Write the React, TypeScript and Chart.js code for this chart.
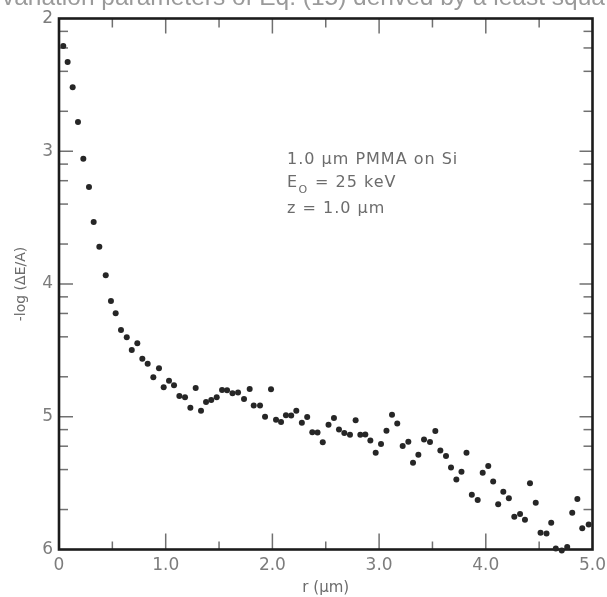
import React, { useEffect, useRef } from 'react';
import { Chart, registerables } from 'chart.js';

Chart.register(...registerables);

// r (µm) of each measured point
const radius = [
  0.040, 0.081, 0.128, 0.178, 0.228, 0.281, 0.325, 0.378, 0.438, 0.487,
  0.531, 0.581, 0.635, 0.682, 0.734, 0.781, 0.831, 0.884, 0.937, 0.981,
  1.031, 1.078, 1.128, 1.181, 1.231, 1.281, 1.331, 1.378, 1.427, 1.478,
  1.528, 1.575, 1.626, 1.678, 1.734, 1.787, 1.825, 1.884, 1.931, 1.987,
  2.034, 2.081, 2.127, 2.176, 2.224, 2.276, 2.326, 2.374, 2.423, 2.472,
  2.526, 2.577, 2.624, 2.674, 2.727, 2.780, 2.824, 2.871, 2.918, 2.968,
  3.018, 3.069, 3.121, 3.170, 3.221, 3.274, 3.318, 3.368, 3.421, 3.477,
  3.527, 3.574, 3.627, 3.674, 3.724, 3.772, 3.819, 3.869, 3.924, 3.971,
  4.023, 4.069, 4.116, 4.164, 4.216, 4.267, 4.321, 4.367, 4.414, 4.468,
  4.513, 4.569, 4.613, 4.656, 4.712, 4.763, 4.810, 4.858, 4.904, 4.964,
];

// -log(ΔE/A) of each measured point
const negLogEnergy = [
  2.207, 2.328, 2.518, 2.780, 3.056, 3.269, 3.533, 3.719, 3.934, 4.128,
  4.221, 4.347, 4.402, 4.497, 4.447, 4.563, 4.600, 4.703, 4.635, 4.778,
  4.728, 4.763, 4.844, 4.853, 4.932, 4.783, 4.954, 4.889, 4.874, 4.853,
  4.799, 4.801, 4.823, 4.817, 4.866, 4.791, 4.915, 4.915, 5.000, 4.793,
  5.022, 5.040, 4.988, 4.991, 4.955, 5.045, 5.002, 5.116, 5.119, 5.192,
  5.060, 5.009, 5.096, 5.123, 5.135, 5.027, 5.135, 5.133, 5.179, 5.272,
  5.206, 5.105, 4.985, 5.051, 5.220, 5.189, 5.347, 5.286, 5.171, 5.190,
  5.107, 5.254, 5.296, 5.382, 5.473, 5.414, 5.271, 5.588, 5.627, 5.421,
  5.371, 5.487, 5.660, 5.565, 5.614, 5.754, 5.733, 5.776, 5.501, 5.647,
  5.874, 5.880, 5.798, 5.993, 6.008, 5.981, 5.723, 5.620, 5.840, 5.811,
];

const xTickValues = [0, 1, 2, 3, 4, 5];
const xTickLabels = ['0', '1.0', '2.0', '3.0', '4.0', '5.0'];
const xMinorTicks = [0.5, 1.5, 2.5, 3.5, 4.5];
const yTickValues = [2, 3, 4, 5, 6];
const yTickLabels = ['2', '3', '4', '5', '6'];
const yMinorMantissas = [2, 4, 6, 8];

const xTitle = 'r (\u03bcm)';
const yTitle = '-log (\u0394E/A)';
const noteLine1 = '1.0 \u03bcm PMMA on Si';
const noteLine2Main = 'E';
const noteLine2Sub = 'O';
const noteLine2Rest = '= 25 keV';
const noteLine3 = 'z = 1.0 \u03bcm';
const pageCaption = 'variation parameters of Eq. (15) derived by a least squa';

const FONT = '"DejaVu Sans", "Liberation Sans", sans-serif';

const framePlugin = {
  id: 'frameTicks',
  beforeDatasetsDraw(chart: any) {
    const { ctx, chartArea: a, scales } = chart;
    const xs = scales.x;
    const ys = scales.y;
    ctx.save();
    ctx.strokeStyle = '#707070';
    ctx.lineWidth = 1.5;
    const line = (x1: number, y1: number, x2: number, y2: number) => {
      ctx.beginPath();
      ctx.moveTo(x1, y1);
      ctx.lineTo(x2, y2);
      ctx.stroke();
    };
    xTickValues.slice(1, -1).forEach((v) => {
      const px = xs.getPixelForValue(v);
      line(px, a.bottom, px, a.bottom - 16);
      line(px, a.top, px, a.top + 15);
    });
    xMinorTicks.forEach((v) => {
      const px = xs.getPixelForValue(v);
      line(px, a.bottom, px, a.bottom - 8);
      line(px, a.top, px, a.top + 9);
    });
    yTickValues.slice(1, -1).forEach((v) => {
      const py = ys.getPixelForValue(v);
      line(a.left, py, a.left + 14, py);
      line(a.right, py, a.right - 13, py);
    });
    for (let n = yTickValues[0]; n < yTickValues[yTickValues.length - 1]; n++) {
      yMinorMantissas.forEach((k) => {
        const py = ys.getPixelForValue(n + 1 - Math.log10(k));
        line(a.left, py, a.left + 9, py);
        line(a.right, py, a.right - 9, py);
      });
    }
    ctx.strokeStyle = '#1c1c1c';
    ctx.lineWidth = 2.6;
    ctx.strokeRect(a.left, a.top, a.right - a.left, a.bottom - a.top);
    ctx.restore();
  },
  afterDraw(chart: any) {
    const { ctx } = chart;
    ctx.save();
    ctx.fillStyle = '#6c6c6c';
    ctx.textBaseline = 'alphabetic';
    ctx.textAlign = 'left';
    const big = `16px ${FONT}`;
    ctx.font = big;
    (ctx as any).letterSpacing = '1px';
    const x0 = 287;
    ctx.fillText(noteLine1, x0, 163.5);
    ctx.fillText(noteLine2Main, x0, 187);
    const wE = ctx.measureText(noteLine2Main).width;
    ctx.font = `11px ${FONT}`;
    ctx.fillText(noteLine2Sub, x0 + wE + 0.5, 193);
    ctx.font = big;
    ctx.fillText(noteLine2Rest, 315, 187);
    ctx.fillText(noteLine3, x0, 212.5);

    // cut-off line of page text above the figure
    (ctx as any).letterSpacing = '0px';
    ctx.fillStyle = '#9a9a9a';
    ctx.font = `18px "Liberation Sans", sans-serif`;
    const w = ctx.measureText(pageCaption).width;
    const size = (18 * 603) / w;
    ctx.font = `${size.toFixed(2)}px "Liberation Sans", sans-serif`;
    ctx.fillText(pageCaption, 2, 4.5);
    ctx.restore();
  },
};

export default function App() {
  const canvasRef = useRef<HTMLCanvasElement | null>(null);

  useEffect(() => {
    const canvas = canvasRef.current;
    if (!canvas) return;
    const points = radius.map((r, i) => ({ x: r, y: negLogEnergy[i] }));
    const chart = new Chart(canvas, {
      type: 'scatter',
      data: {
        datasets: [
          {
            data: points,
            backgroundColor: '#262626',
            borderWidth: 0,
            pointRadius: 3,
            pointHoverRadius: 3,
            clip: false,
          } as any,
        ],
      },
      options: {
        animation: false,
        responsive: false,
        devicePixelRatio: 1,
        events: [],
        layout: { padding: { left: 0, top: 18.5, right: 14.5, bottom: 0 } },
        plugins: {
          legend: { display: false },
          tooltip: { enabled: false },
          title: { display: false },
        },
        scales: {
          x: {
            type: 'linear',
            min: 0,
            max: 5,
            grid: { display: false, drawTicks: false },
            border: { display: false },
            afterBuildTicks: (scale: any) => {
              scale.ticks = xTickValues.map((v) => ({ value: v }));
            },
            afterFit: (scale: any) => {
              scale.height = 47.5;
              scale.paddingLeft = 0;
              scale.paddingRight = 0;
              scale.paddingTop = 0;
              scale.paddingBottom = 0;
            },
            ticks: {
              autoSkip: false,
              maxRotation: 0,
              padding: 6,
              color: '#7c7c7c',
              font: { family: FONT, size: 17 },
              callback: (_v: any, i: number) => xTickLabels[i],
            },
            title: {
              display: true,
              text: xTitle,
              color: '#6c6c6c',
              font: { family: FONT, size: 15 },
              padding: { top: 0, bottom: 0 },
            },
          },
          y: {
            type: 'linear',
            reverse: true,
            min: 2,
            max: 6,
            grid: { display: false, drawTicks: false },
            border: { display: false },
            afterBuildTicks: (scale: any) => {
              scale.ticks = yTickValues.map((v) => ({ value: v }));
            },
            afterFit: (scale: any) => {
              scale.width = 59;
              scale.paddingLeft = 0;
              scale.paddingRight = 0;
              scale.paddingTop = 0;
              scale.paddingBottom = 0;
            },
            ticks: {
              autoSkip: false,
              padding: 6,
              color: '#7c7c7c',
              font: { family: FONT, size: 17 },
              callback: (_v: any, i: number) => yTickLabels[i],
            },
            title: {
              display: true,
              text: yTitle,
              color: '#6c6c6c',
              font: { family: FONT, size: 14 },
              padding: { top: 13, bottom: 0 },
            },
          },
        },
      },
      plugins: [framePlugin],
    } as any);
    return () => chart.destroy();
  }, []);

  return (
    <div
      style={{
        position: 'fixed',
        left: 0,
        top: 0,
        width: 607,
        height: 597,
        background: '#ffffff',
      }}
    >
      <canvas ref={canvasRef} width={607} height={597} style={{ display: 'block' }} />
    </div>
  );
}
